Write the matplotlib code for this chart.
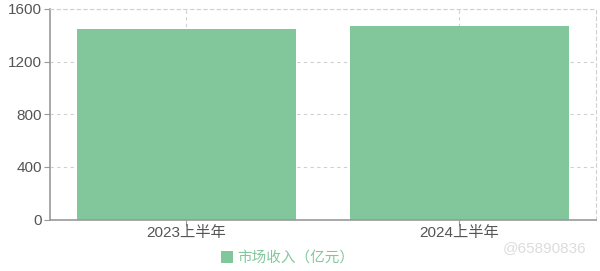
import matplotlib
matplotlib.use('Agg')
import matplotlib.pyplot as plt
from matplotlib.patches import Patch

plt.rcParams['font.family'] = ['Liberation Sans', 'Noto Sans CJK SC', 'DejaVu Sans']

# 데이터
categories = ['2023上半年', '2024上半年']
revenue = [1446, 1474]
series_name = '市场收入（亿元）'
yticks = [0, 400, 800, 1200, 1600]

bar_color = '#82c79b'
axis_color = '#999999'
text_color = '#555555'

fig = plt.figure(figsize=(6.0, 2.71), dpi=100)
ax = fig.add_axes([0.0833, 0.19, 0.91, 0.7768])

x = range(len(categories))
ax.bar(x, revenue, width=0.8, color=bar_color, zorder=2)

ax.set_xlim(-0.5, len(categories) - 0.5)
ax.set_ylim(0, 1600)
ax.set_yticks(yticks)
ax.set_xticks(list(x))
ax.set_xticklabels(categories)

# 그리드 (점선)
ax.grid(True, axis='both', color='#d0d0d0', linestyle=(0, (3, 3)), linewidth=0.8, zorder=0)

# 축선
for s in ['top', 'right']:
    ax.spines[s].set_visible(True)
    ax.spines[s].set_color('#d0d0d0')
    ax.spines[s].set_linestyle((0, (3, 3)))
    ax.spines[s].set_linewidth(0.8)
ax.spines['left'].set_color(axis_color)
ax.spines['bottom'].set_color(axis_color)
ax.spines['left'].set_linewidth(1.2)
ax.spines['bottom'].set_linewidth(1.2)

ax.tick_params(axis='y', colors=axis_color, labelcolor=text_color, labelsize=11, length=4, pad=2)
ax.tick_params(axis='x', colors=axis_color, labelcolor=text_color, labelsize=11, length=4, pad=1)

# 범례
handle = Patch(facecolor=bar_color, edgecolor='none')
fig.legend([handle], [series_name], loc='center', bbox_to_anchor=(0.48, 0.048),
           frameon=False, fontsize=10.5, handlelength=0.8, handleheight=0.8,
           handletextpad=0.3, labelcolor=bar_color)

# 워터마크
fig.text(0.978, 0.085, '@65890836', ha='right', va='center', fontsize=11,
         color='#dcdcdc')

fig.savefig('out.png', dpi=100)
